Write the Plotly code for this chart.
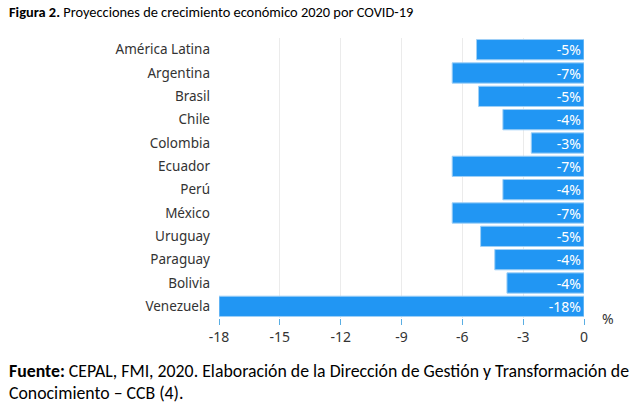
import plotly.graph_objects as go

categories = ["América Latina", "Argentina", "Brasil", "Chile", "Colombia", "Ecuador",
              "Perú", "México", "Uruguay", "Paraguay", "Bolivia", "Venezuela"]
values = [-5.3, -6.5, -5.2, -4.0, -2.6, -6.5, -4.0, -6.5, -5.1, -4.4, -3.8, -18.0]
labels = ["-5%", "-7%", "-5%", "-4%", "-3%", "-7%", "-4%", "-7%", "-5%", "-4%", "-4%", "-18%"]
tick_vals = [-18, -15, -12, -9, -6, -3, 0]
tick_text = ["-18", "-15", "-12", "-9", "-6", "-3", "0"]

ui_font = "Segoe UI, Noto Sans, Open Sans, sans-serif"
doc_font = "Calibri, Carlito, Lato, sans-serif"

W, H = 642, 406
L, R, T, B = 219, 58, 38, 88

fig = go.Figure(go.Bar(
    y=categories, x=values, orientation="h",
    marker=dict(color="#2196F3", line=dict(color="#9fd0f7", width=1)),
    text=labels, textposition="inside", insidetextanchor="start",
    constraintext="none",
    textfont=dict(color="white", size=14, family=ui_font),
    hoverinfo="skip",
))

plot_w = W - L - R
plot_h = H - T - B
def px(xp):
    return (xp - L) / plot_w
def py(yp):
    return (H - B - yp) / plot_h

fig.update_layout(
    width=W, height=H,
    margin=dict(l=L, r=R, t=T, b=B),
    paper_bgcolor="white", plot_bgcolor="white",
    showlegend=False, bargap=0.13,
    xaxis=dict(range=[-18, 0], tickvals=tick_vals, ticktext=tick_text,
               showgrid=True, gridcolor="#ebebeb", gridwidth=1,
               zeroline=False, showline=False,
               ticks="outside", ticklen=6, tickcolor="#5aaee3", tickwidth=1,
               tickfont=dict(size=14, color="#333333", family=ui_font)),
    yaxis=dict(autorange="reversed", showgrid=False, zeroline=False, showline=False,
               ticks="", ticklabelstandoff=8,
               tickfont=dict(size=13.5, color="#333333", family=ui_font)),
    annotations=[
        dict(text="<b>Figura 2.</b> Proyecciones de crecimiento económico 2020 por COVID-19",
             xref="paper", yref="paper", x=px(7), y=py(12), xanchor="left", yanchor="middle",
             showarrow=False, font=dict(size=14.4, color="black", family=doc_font)),
        dict(text="%", xref="paper", yref="paper", x=px(600), y=py(318), xanchor="left", yanchor="middle",
             showarrow=False, font=dict(size=14, color="#333333", family=ui_font)),
        dict(text="<b>Fuente:</b> CEPAL, FMI, 2020. Elaboración de la Dirección de Gestión y Transformación de",
             xref="paper", yref="paper", x=px(7), y=py(371), xanchor="left", yanchor="middle",
             showarrow=False, font=dict(size=17.8, color="black", family=doc_font)),
        dict(text="Conocimiento – CCB (4).",
             xref="paper", yref="paper", x=px(7), y=py(393), xanchor="left", yanchor="middle",
             showarrow=False, font=dict(size=17.8, color="black", family=doc_font)),
    ],
)

fig.write_html("out.html", config={"displayModeBar": False},
               post_script="document.body.style.margin='0';document.body.style.overflow='hidden';")
